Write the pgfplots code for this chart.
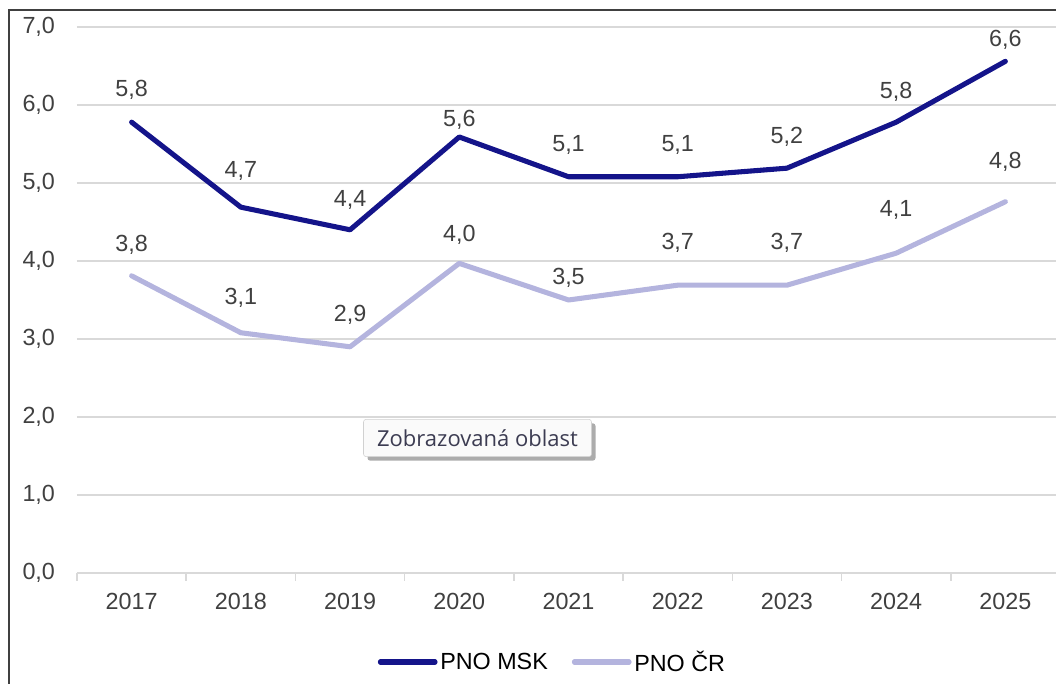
\documentclass[border=0pt]{standalone}
\usepackage{pgfplots}
\pgfplotsset{compat=1.18}
\usepackage{fontspec}
\setmainfont{Liberation Sans}
\newfontfamily\tipfont{Open Sans}
\usetikzlibrary{shadows}
\definecolor{cmsk}{HTML}{14148A}
\definecolor{ccr}{HTML}{B4B4DE}
\definecolor{ctext}{HTML}{404040}
\definecolor{cgrid}{HTML}{D9D9D9}
\definecolor{ctip}{HTML}{3C3C52}

\begin{document}
\begin{tikzpicture}[x=0.75pt,y=0.75pt]
\useasboundingbox (0,0) rectangle (1056,684);
\begin{axis}[
  at={(57.75pt,83.25pt)}, anchor=south west,
  scale only axis,
  width=737.25pt, height=409.5pt,
  xmin=-0.5, xmax=8.5, ymin=0, ymax=7,
  axis x line=bottom, axis y line=left,
  x axis line style={-, draw=cgrid, line width=1.1pt},
  y axis line style={draw=none},
  xtick={0,...,8},
  xticklabels={2017,2018,2019,2020,2021,2022,2023,2024,2025},
  minor xtick={-0.5,0.5,...,8.5},
  major tick length=0pt, minor tick length=6pt,
  tick align=outside,
  minor tick style={draw=cgrid, line width=1.1pt},
  ytick={0,1,...,7},
  ytick style={draw=none},
  ymajorgrids, grid style={cgrid, line width=1.1pt},
  yticklabel style={anchor=east, xshift=-13pt},
  xticklabel style={anchor=north, yshift=-12pt},
  /pgf/number format/.cd, fixed, fixed zerofill, precision=1, use comma, assume math mode=true,
  /pgfplots/.cd,
  tick label style={font=\fontsize{17.5}{20}\selectfont, text=ctext},
  legend style={at={(axis description cs:0.484,-0.163)}, anchor=center,
    draw=none, fill=none, legend columns=2,
    font=\fontsize{17.5}{20}\selectfont, text=black,
    /tikz/every even column/.append style={column sep=16pt},
    nodes={inner sep=2pt}},
  legend image code/.code={\draw[#1] (0pt,0pt) -- (41pt,0pt);},
  clip=false,
]
% PNO MSK
\addplot[cmsk, line width=3.8pt, line join=round, line cap=round]
  table {
x y
0 5.78
1 4.69
2 4.40
3 5.59
4 5.08
5 5.08
6 5.19
7 5.78
8 6.56
};
\addlegendentry{PNO MSK}
% PNO CR
\addplot[ccr, line width=3.8pt, line join=round, line cap=round]
  table {
x y
0 3.81
1 3.08
2 2.90
3 3.97
4 3.50
5 3.69
6 3.69
7 4.10
8 4.76
};
\addlegendentry{PNO ČR}
% data labels, at the positions
\addplot[draw=none, forget plot, nodes near coords, point meta=explicit symbolic,
  nodes near coords style={anchor=center, font=\fontsize{17.5}{20}\selectfont, text=ctext}]
  table[meta=lab] {
x y lab
0 6.19 5,8
1 5.15 4,7
2 4.78 4,4
3 5.81 5,6
4 5.49 5,1
5 5.49 5,1
6 5.59 5,2
7 6.17 5,8
8 6.83 6,6
};
\addplot[draw=none, forget plot, nodes near coords, point meta=explicit symbolic,
  nodes near coords style={anchor=center, font=\fontsize{17.5}{20}\selectfont, text=ctext}]
  table[meta=lab] {
x y lab
0 4.21 3,8
1 3.53 3,1
2 3.31 2,9
3 4.33 4,0
4 3.79 3,5
5 4.23 3,7
6 4.23 3,7
7 4.65 4,1
8 5.27 4,8
};
\end{axis}
% tooltip box of the screenshot
\node[fill={rgb,255:red,250;green,250;blue,250}, draw=black!18, rounded corners=2pt,
  drop shadow={shadow xshift=3pt, shadow yshift=-3pt, opacity=0.5, fill=black!65},
  minimum width=171pt, minimum height=28pt, inner sep=0pt, text=ctip,
  font=\tipfont\fontsize{16.5}{19}\selectfont]
  at (477.5,246) {Zobrazovaná oblast};
% frame
\draw[line width=1.5pt, black!75] (8.5,-5) -- (8.5,673.5) -- (1070,673.5);
\end{tikzpicture}
\end{document}
